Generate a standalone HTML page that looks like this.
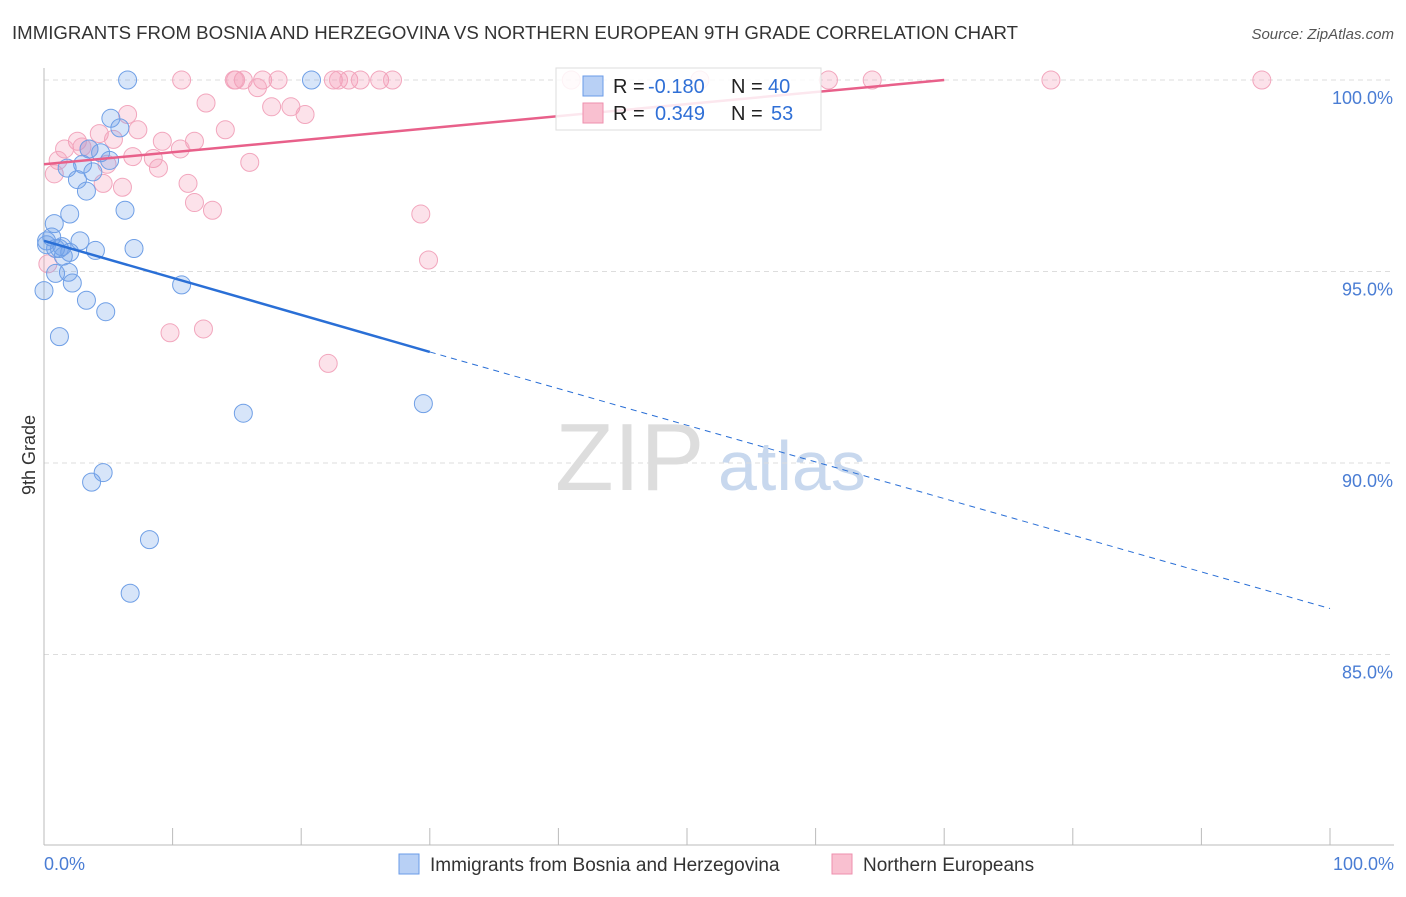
<!DOCTYPE html>
<html><head><meta charset="utf-8"><style>
body{margin:0;background:#fff;font-family:"Liberation Sans",sans-serif;}
svg text{font-family:"Liberation Sans",sans-serif;}
</style></head><body>
<svg id="c" width="1406" height="892">
<text x="12" y="39" font-size="18" fill="#333" textLength="1006" lengthAdjust="spacingAndGlyphs">IMMIGRANTS FROM BOSNIA AND HERZEGOVINA VS NORTHERN EUROPEAN 9TH GRADE CORRELATION CHART</text>
<text x="1394" y="39" font-size="15" fill="#555" font-style="italic" text-anchor="end">Source: ZipAtlas.com</text>
<text x="555" y="490" font-size="96" fill="#ddd" font-family="Liberation Serif">ZIP</text>
<text x="718" y="490" font-size="70" fill="#c8d8ee">atlas</text>
<text transform="translate(35,455) rotate(-90)" font-size="18" fill="#333" text-anchor="middle">9th Grade</text>
<g id="grid"></g><g id="marks"></g>
<g>
<rect x="556" y="68" width="265" height="62" fill="#fff" fill-opacity="0.85" stroke="#ddd"/>
<rect x="583" y="76" width="20" height="20" fill="#b8d0f5" stroke="#6a9be8"/>
<rect x="583" y="103" width="20" height="20" fill="#f9c0d0" stroke="#ee8fae"/>
<text x="613" y="93" font-size="20" fill="#222">R =</text>
<text x="648" y="93" font-size="20" fill="#2f6fd6">-0.180</text>
<text x="731" y="93" font-size="20" fill="#222">N =</text>
<text x="768" y="93" font-size="20" fill="#2f6fd6">40</text>
<text x="613" y="120" font-size="20" fill="#222">R =</text>
<text x="655" y="120" font-size="20" fill="#2f6fd6">0.349</text>
<text x="731" y="120" font-size="20" fill="#222">N =</text>
<text x="771" y="120" font-size="20" fill="#2f6fd6">53</text>
</g>
<g>
<rect x="399" y="854" width="20" height="20" fill="#b8d0f5" stroke="#6a9be8"/>
<text x="430" y="871" font-size="19" fill="#333">Immigrants from Bosnia and Herzegovina</text>
<rect x="832" y="854" width="20" height="20" fill="#f9c0d0" stroke="#ee8fae"/>
<text x="863" y="871" font-size="19" fill="#333">Northern Europeans</text>
</g>
</svg>
<script>
const yTicks=[100,95,90,85];
const yTickLabels=["100.0%","95.0%","90.0%","85.0%"];
const blueX=[6.5,20.8,5.2,5.9,3.5,4.4,3.0,1.8,3.8,2.6,3.3,6.3,2.0,0.8,0.6,2.8,0.2,1.4,0.9,2.0,4.0,7.0,1.5,0.9,1.9,2.2,0.0,10.7,3.3,4.8,1.2,15.5,29.5,4.6,3.7,8.2,6.7,0.2,1.2,5.1];
const blueY=[100,100,99.0,98.75,98.2,98.1,97.8,97.7,97.6,97.4,97.1,96.6,96.5,96.25,95.9,95.8,95.7,95.65,95.6,95.5,95.55,95.6,95.4,94.95,94.98,94.7,94.5,94.65,94.25,93.95,93.3,91.3,91.55,89.75,89.5,88.0,86.6,95.8,95.6,97.9];
const pinkX=[10.7,14.9,15.5,17.0,18.2,22.5,22.9,23.7,24.6,26.1,27.1,41.0,51.0,61.0,64.4,78.3,94.7,14.8,16.6,12.6,17.7,19.2,20.3,6.5,11.7,14.1,4.3,7.3,2.6,1.6,3.5,5.4,10.6,9.2,1.1,8.5,6.9,4.9,0.8,8.9,16.0,4.6,6.1,11.2,11.7,13.1,29.3,29.9,9.8,12.4,22.1,0.3,2.95];
const pinkY=[100,100,100,100,100,100,100,100,100,100,100,100,100,100,100,100,100,100,99.8,99.4,99.3,99.3,99.1,99.1,98.4,98.7,98.6,98.7,98.4,98.2,98.2,98.45,98.2,98.4,97.9,97.95,98.0,97.8,97.55,97.7,97.85,97.3,97.2,97.3,96.8,96.6,96.5,95.3,93.4,93.5,92.6,95.2,98.25];
const blueTrend=[[0,95.8],[30,92.9]],blueTrendDash=[[30,92.9],[100,86.2]];
const pinkTrend=[[0,97.8],[70,100]];
const X=v=>44+v*12.86, Y=v=>80+(100-v)*38.3;
const NS="http://www.w3.org/2000/svg";
function mk(t,a,p){const e=document.createElementNS(NS,t);for(const k in a)e.setAttribute(k,a[k]);p.appendChild(e);return e;}
const grid=document.getElementById('grid'),marks=document.getElementById('marks');
yTicks.forEach((t,i)=>{
 const l=mk('line',{x1:44,x2:1394,y1:Y(t),y2:Y(t),stroke:'#ddd','stroke-dasharray':'5,4'},grid);
 
 
 const tx=mk('text',{x:1393,y:Y(t)+24,'font-size':18,fill:'#4a7dd4','text-anchor':'end'},grid);tx.textContent=yTickLabels[i];
 
 
});
mk('line',{x1:44,x2:44,y1:68,y2:845,stroke:'#bbb'},grid);
mk('line',{x1:44,x2:1394,y1:845,y2:845,stroke:'#bbb'},grid);
for(let i=0;i<=10;i++){const t=mk('line',{x1:X(i*10),x2:X(i*10),y1:828,y2:845,stroke:'#bbb'},grid);
 
 }
[[0,'0.0%','start',44],[100,'100.0%','end',1394]].forEach(d=>{const t=mk('text',{x:d[3],y:870,'font-size':18,fill:'#4a7dd4','text-anchor':d[2]},grid);t.textContent=d[1];
 
 });
function pts(xs,ys,f,s,n){xs.forEach((x,i)=>{const c=mk('circle',{cx:X(x),cy:Y(ys[i]),r:9,fill:f,stroke:s,'stroke-width':1},marks);
 
 });}
pts(pinkX,pinkY,'rgba(244,150,180,0.28)','#f2a6bd','pink-point');
pts(blueX,blueY,'rgba(110,160,235,0.28)','#6f9fe6','blue-point');
function ln(p,c,d,n){const l=mk('line',{x1:X(p[0][0]),y1:Y(p[0][1]),x2:X(p[1][0]),y2:Y(p[1][1]),stroke:c,'stroke-width':d?1:2.5,'stroke-dasharray':d?'6,5':'none'},marks);
 
 }
ln(pinkTrend,'#e8608a',false,'pink-trend-line');
ln(blueTrend,'#2a6fd6',false,'blue-trend-line');
ln(blueTrendDash,'#2a6fd6',true,'blue-trend-extension');
</script>
</body></html>
